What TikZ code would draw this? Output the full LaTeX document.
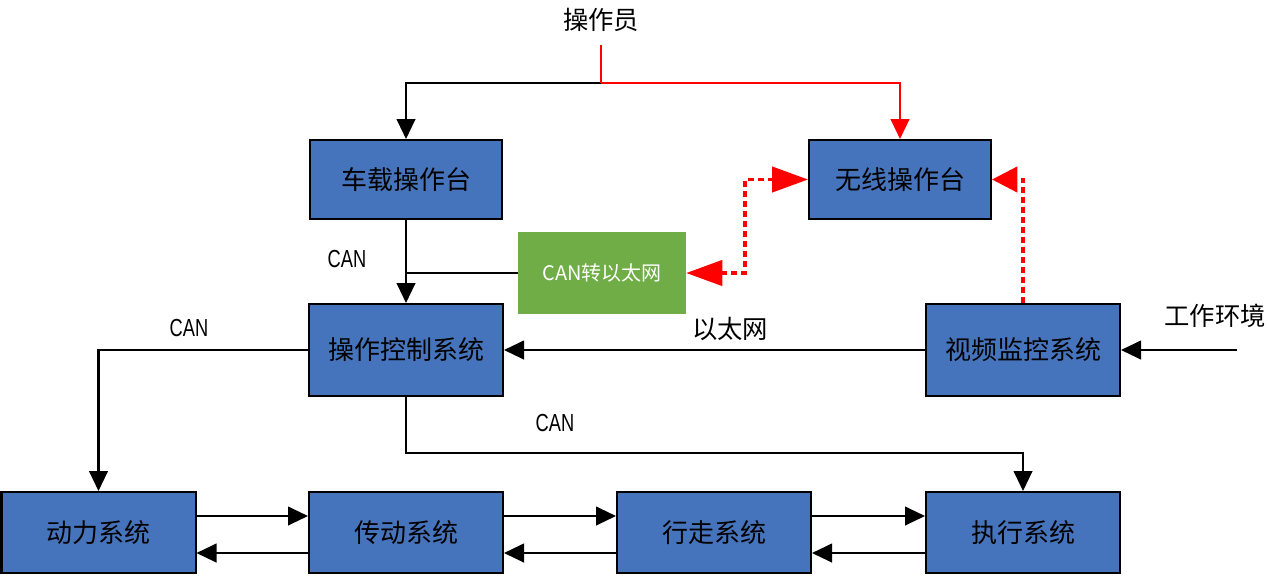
\documentclass[tikz,border=0pt]{standalone}
\usepackage{fontspec}
\usepackage{graphicx}
\setmainfont{Noto Sans CJK SC}
\newfontfamily\canfont{Liberation Sans}
\usetikzlibrary{arrows.meta,calc}
\definecolor{boxblue}{HTML}{4674BC}
\definecolor{boxgreen}{HTML}{70AD47}
\definecolor{linkred}{HTML}{FF0000}
\newcommand{\canlabel}{\scalebox{0.74}[1]{\canfont CAN}}
\begin{document}
\begin{tikzpicture}[x=0.75pt,y=-0.75pt,
  sysbox/.style={draw=black, line width=1.5pt, fill=boxblue, inner sep=0pt,
    font=\fontsize{19.5}{22}\selectfont},
  topbox/.style={sysbox, minimum height=59.25pt},
  midbox/.style={sysbox, minimum width=145.5pt, minimum height=69pt},
  botbox/.style={sysbox, minimum width=145.5pt, minimum height=60.75pt},
  gwbox/.style={draw=none, fill=boxgreen, inner sep=0pt, minimum width=126pt,
    minimum height=61.5pt, text=white, font=\fontsize{15}{17}\selectfont},
  lbl/.style={inner sep=0pt, font=\fontsize{19}{21}\selectfont},
  canlbl/.style={inner sep=0pt, font=\fontsize{18.5}{20}\selectfont},
  conn/.style={draw=black, line width=1.6pt},
  arr/.style={conn, -{Triangle[length=15pt,width=14pt]}},
  redconn/.style={draw=linkred, line width=1.7pt},
  redarr/.style={redconn, -{Triangle[length=15pt,width=14pt]}},
  reddash/.style={draw=linkred, line width=2.4pt, dash pattern=on 4.5pt off 3pt}
]
\useasboundingbox (0,0) rectangle (1269,579);

% nodes
\node[lbl] (op) at (601,20) {操作员};
\node[topbox, minimum width=144pt] (chezai) at (406,179.5) {车载操作台};
\node[topbox, minimum width=136.5pt] (wuxian) at (900,179.5) {无线操作台};
\node[gwbox] (gw) at (602,273) {CAN转以太网};
\node[midbox] (caozuo) at (406,350) {操作控制系统};
\node[midbox] (shipin) at (1023,350) {视频监控系统};
\node[botbox] (dongli) at (98.5,532.5) {动力系统};
\node[botbox] (chuandong) at (406,532.5) {传动系统};
\node[botbox] (xingzou) at (714,532.5) {行走系统};
\node[botbox] (zhixing) at (1023,532.5) {执行系统};

% labels
\node[canlbl] (can1) at (347,259) {\canlabel};
\node[canlbl] (can2) at (189,328) {\canlabel};
\node[canlbl] (can3) at (555,423) {\canlabel};
\node[lbl] (eth) at (730,329) {以太网};
\node[lbl] (env) at (1215,316) {工作环境};

% helper coordinates
\coordinate (opstart) at (601,45);
\coordinate (opj) at (601,83);
\coordinate (envstart) at (1237,350);
\coordinate (y453) at (0,453);
\coordinate (y516) at (0,516);
\coordinate (y553) at (0,553);
\coordinate (bendx) at (745,0);

% operator links
\draw[arr] (opj) -| (chezai.north);
\draw[redconn] (opstart) -- (opj);
\draw[redarr] (opj) -| (wuxian.north);

% vehicle console to control system
\draw[arr] (chezai.south) -- (caozuo.north);
\draw[conn] (gw.west) -- (chezai.south |- gw.west);

% wireless links (dashed red)
\draw[reddash, {Triangle[length=27pt,width=19pt]}-{Triangle[length=27pt,width=19pt]}]
  (gw.east) -| (bendx |- wuxian.west) -- (wuxian.west);
\draw[reddash, -{Triangle[length=19pt,width=19pt]}] (shipin.north) |- (wuxian.east);

% ethernet & environment
\draw[arr] (shipin.west) -- (caozuo.east);
\draw[arr] (envstart) -- (shipin.east);

% CAN to subsystems
\draw[arr] (caozuo.west) -| (dongli.north);
\draw[arr] (caozuo.south) -- (caozuo.south |- y453) -| (zhixing.north);

% bottom chain
\draw[arr] (dongli.east |- y516) -- (chuandong.west |- y516);
\draw[arr] (chuandong.west |- y553) -- (dongli.east |- y553);
\draw[arr] (chuandong.east |- y516) -- (xingzou.west |- y516);
\draw[arr] (xingzou.west |- y553) -- (chuandong.east |- y553);
\draw[arr] (xingzou.east |- y516) -- (zhixing.west |- y516);
\draw[arr] (zhixing.west |- y553) -- (xingzou.east |- y553);
\end{tikzpicture}
\end{document}
